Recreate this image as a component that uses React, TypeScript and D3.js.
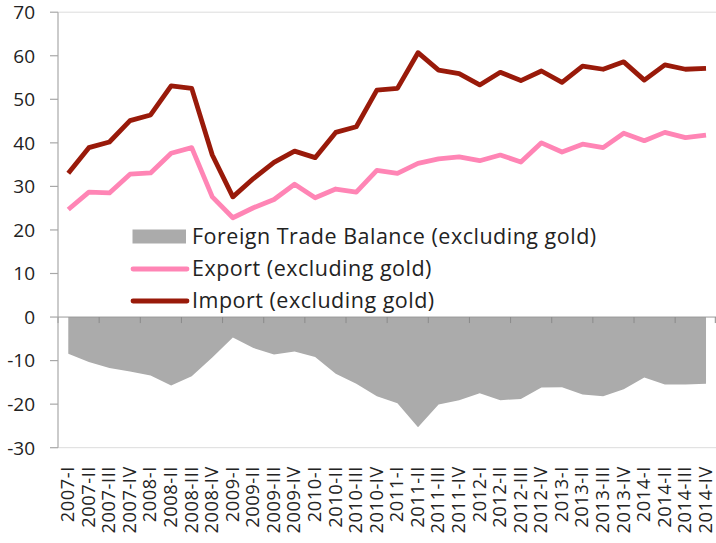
import React from "react";
import * as d3 from "d3";

const categories: string[] = [];
const years = ["2007", "2008", "2009", "2010", "2011", "2012", "2013", "2014"];
const quarters = ["I", "II", "III", "IV"];
years.forEach((y) => quarters.forEach((q) => categories.push(`${y}-${q}`)));

const importValues = [
  33.0, 38.9, 40.2, 45.1, 46.4, 53.1, 52.5, 37.2, 27.6, 31.8, 35.5, 38.1, 36.6, 42.4, 43.7, 52.1,
  52.5, 60.7, 56.7, 55.9, 53.3, 56.2, 54.3, 56.5, 53.9, 57.6, 56.9, 58.6, 54.4, 57.9, 56.9, 57.1,
];
const exportValues = [
  24.7, 28.7, 28.5, 32.8, 33.1, 37.6, 38.9, 27.6, 22.8, 25.1, 27.0, 30.5, 27.4, 29.4, 28.7, 33.7,
  33.0, 35.3, 36.3, 36.8, 35.9, 37.2, 35.6, 40.0, 37.9, 39.7, 38.9, 42.2, 40.5, 42.4, 41.2, 41.8,
];
const balanceValues = [
  -8.4, -10.3, -11.7, -12.5, -13.4, -15.7, -13.6, -9.3, -4.7, -7.1, -8.6, -7.9, -9.2, -13.0, -15.3, -18.2,
  -19.8, -25.3, -20.1, -19.1, -17.5, -19.1, -18.8, -16.2, -16.1, -17.8, -18.2, -16.6, -13.9, -15.5, -15.5, -15.3,
];
const yTicks = [-30, -20, -10, 0, 10, 20, 30, 40, 50, 60, 70];
const legendLabels = [
  "Foreign Trade Balance (excluding gold)",
  "Export (excluding gold)",
  "Import (excluding gold)",
];

const W = 716;
const H = 543;
const left = 58;
const right = 716.3;
const top = 12.2;
const bottom = 447.7;
const FONT = "'Open Sans', sans-serif";
const IMPORT_COLOR = "#991a0a";
const EXPORT_COLOR = "#ff85b5";
const AREA_COLOR = "#ababab";

export default function App() {
  const x = d3.scaleBand<string>().domain(categories).range([left, right]).padding(0);
  const cx = (c: string) => (x(c) as number) + x.bandwidth() / 2;
  const y = d3.scaleLinear().domain([-30, 70]).range([bottom, top]);

  const line = d3
    .line<number>()
    .x((_, i) => cx(categories[i]))
    .y((d) => y(d));
  const area = d3
    .area<number>()
    .x((_, i) => cx(categories[i]))
    .y0(y(0))
    .y1((d) => y(d));

  const zeroTicks = categories
    .map((c, i) => ({ c, i }))
    .filter((d) => d.i % 2 === 0)
    .map((d) => x(d.c) as number)
    .concat([right - 1]);

  const legendBase = [243.7, 275.7, 307.7];

  return (
    <svg
      width={W}
      height={H}
      style={{ position: "absolute", left: 0, top: 0, background: "#fff" }}
      fontFamily={FONT}
    >
      {/* frame lines */}
      <line x1={left} x2={right} y1={y(70)} y2={y(70)} stroke="#dcdcdc" strokeWidth={1} />
      <line x1={left} x2={right} y1={y(-30)} y2={y(-30)} stroke="#dcdcdc" strokeWidth={1} />

      {/* balance area */}
      <path d={area(balanceValues) || ""} fill={AREA_COLOR} />

      {/* zero line with ticks */}
      <line x1={left} x2={right} y1={y(0)} y2={y(0)} stroke="#9a9a9a" strokeWidth={1} />
      {zeroTicks.map((tx, i) => (
        <line key={i} x1={tx} x2={tx} y1={y(0)} y2={y(0) + 6} stroke="#8a8a8a" strokeWidth={1} />
      ))}

      {/* y axis */}
      <line x1={left} x2={left} y1={y(70)} y2={y(-30)} stroke="#a8a8a8" strokeWidth={1.2} />
      {yTicks.map((t) => (
        <g key={t}>
          <line x1={left - 8} x2={left} y1={y(t)} y2={y(t)} stroke="#a8a8a8" strokeWidth={1.2} />
          <text
            x={35}
            y={y(t)}
            dy="0.36em"
            textAnchor="end"
            fontSize={19}
            fill="#222"
          >
            {t}
          </text>
        </g>
      ))}

      {/* lines */}
      <path d={line(exportValues) || ""} fill="none" stroke={EXPORT_COLOR} strokeWidth={4.8} strokeLinejoin="round" />
      <path d={line(importValues) || ""} fill="none" stroke={IMPORT_COLOR} strokeWidth={4.8} strokeLinejoin="round" />

      {/* x labels */}
      {categories.map((c) => (
        <text
          key={c}
          transform={`translate(${cx(c) - 0.5},${466}) rotate(-90)`}
          dy="0.35em"
          textAnchor="end"
          fontSize={18.2}
          letterSpacing={0.6}
          fill="#222"
        >
          {c}
        </text>
      ))}

      {/* legend */}
      <g fontSize={21.5} letterSpacing={0.5} fill="#222">
        <rect x={132.5} y={229.5} width={53.5} height={14} fill={AREA_COLOR} />
        <text x={192} y={legendBase[0]}>{legendLabels[0]}</text>
        <line x1={133} x2={187} y1={269} y2={269} stroke={EXPORT_COLOR} strokeWidth={4.8} strokeLinecap="round" />
        <text x={192} y={legendBase[1]}>{legendLabels[1]}</text>
        <line x1={133} x2={187} y1={301} y2={301} stroke={IMPORT_COLOR} strokeWidth={4.8} strokeLinecap="round" />
        <text x={192} y={legendBase[2]}>{legendLabels[2]}</text>
      </g>
    </svg>
  );
}
